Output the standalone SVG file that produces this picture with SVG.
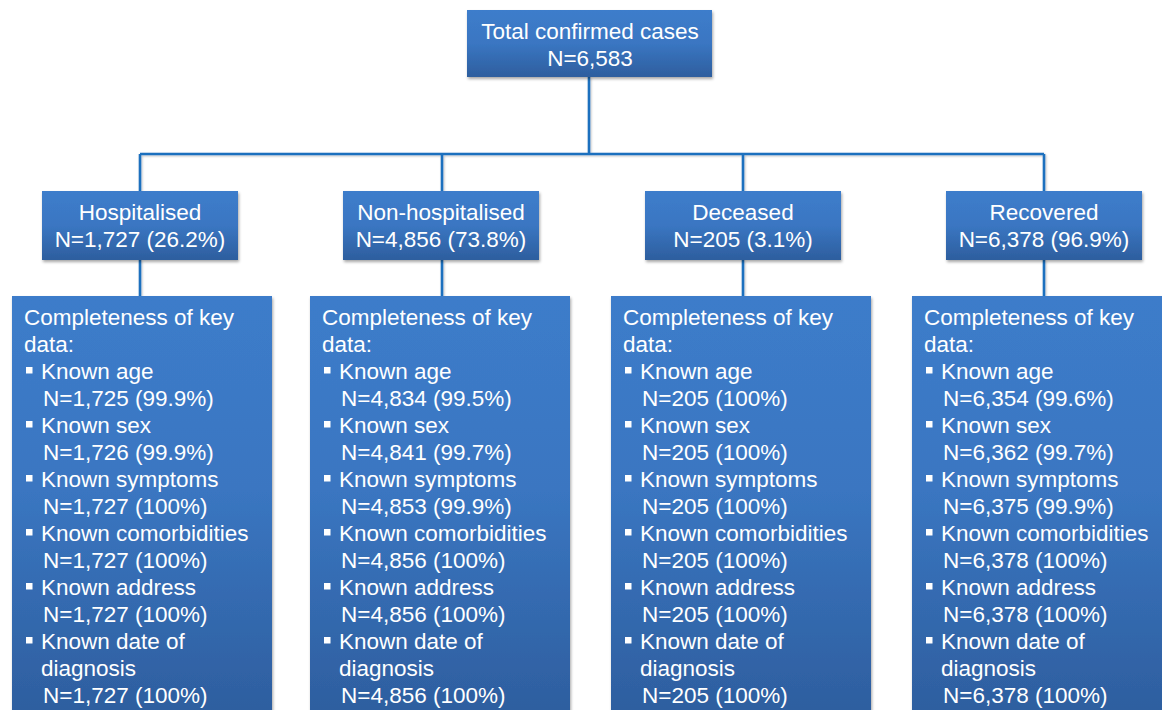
<svg xmlns="http://www.w3.org/2000/svg" width="1162" height="710" viewBox="0 0 1162 710">
<defs>
<linearGradient id="gSmall" x1="0" y1="0" x2="0" y2="1">
<stop offset="0" stop-color="#3D7DCB"/>
<stop offset="0.5" stop-color="#3A76C2"/>
<stop offset="1" stop-color="#2D5E9E"/>
</linearGradient>
<linearGradient id="gBig" x1="0" y1="0" x2="0" y2="1">
<stop offset="0" stop-color="#3C7CCA"/>
<stop offset="0.45" stop-color="#3A76C1"/>
<stop offset="1" stop-color="#2D5D9D"/>
</linearGradient>
<filter id="sh" x="-10%" y="-10%" width="130%" height="130%">
<feDropShadow dx="1" dy="2" stdDeviation="1.6" flood-color="#000" flood-opacity="0.35"/>
</filter>
<filter id="lsh" x="-5%" y="-50%" width="110%" height="200%">
<feDropShadow dx="1" dy="1" stdDeviation="1" flood-color="#000" flood-opacity="0.25"/>
</filter>
</defs>
<style>
.box{filter:url(#sh);}
.small{fill:url(#gSmall);}
.big{fill:url(#gBig);}
text{font-family:"Liberation Sans",Arial,sans-serif;font-size:22.5px;fill:#FFFFFF;}
.c{text-anchor:middle;}
.bul{fill:#FFFFFF;}
.conn{stroke:#1E6FBE;stroke-width:2.6;fill:none;filter:url(#lsh);}
</style>
<rect width="1162" height="710" fill="#FFFFFF"/>
<g id="connectors">
<path class="conn" d="M589,77 V154 M140,154 H1044 M140,154 V191 M442,154 V191 M743,154 V191 M1044,154 V191"/>
<path class="conn" d="M140,260 V296 M442,260 V296 M743,260 V296 M1044,260 V296"/>
</g>
<g id="total">
<rect class="box small" x="467" y="10" width="245" height="67"/>
<text class="c" x="590" y="39">Total confirmed cases</text>
<text class="c" x="590" y="66">N=6,583</text>
</g>
<g id="hospitalised">
<rect class="box small" x="42" y="191" width="196" height="69"/>
<text class="c" x="140" y="220">Hospitalised</text>
<text class="c" x="140" y="247">N=1,727 (26.2%)</text>
</g>
<g id="nonhospitalised">
<rect class="box small" x="343" y="191" width="196" height="69"/>
<text class="c" x="441" y="220">Non-hospitalised</text>
<text class="c" x="441" y="247">N=4,856 (73.8%)</text>
</g>
<g id="deceased">
<rect class="box small" x="645" y="191" width="196" height="69"/>
<text class="c" x="743" y="220">Deceased</text>
<text class="c" x="743" y="247">N=205 (3.1%)</text>
</g>
<g id="recovered">
<rect class="box small" x="946" y="191" width="196" height="69"/>
<text class="c" x="1044" y="220">Recovered</text>
<text class="c" x="1044" y="247">N=6,378 (96.9%)</text>
</g>
<g id="detail-hospitalised">
<rect class="box big" x="12" y="296" width="260" height="430"/>
<text x="24" y="325">Completeness of key</text>
<text x="24" y="352">data:</text>
<rect class="bul" x="26" y="367" width="6.5" height="6.5"/><text x="41" y="379">Known age</text>
<text x="43" y="406">N=1,725 (99.9%)</text>
<rect class="bul" x="26" y="421" width="6.5" height="6.5"/><text x="41" y="433">Known sex</text>
<text x="43" y="460">N=1,726 (99.9%)</text>
<rect class="bul" x="26" y="475" width="6.5" height="6.5"/><text x="41" y="487">Known symptoms</text>
<text x="43" y="514">N=1,727 (100%)</text>
<rect class="bul" x="26" y="529" width="6.5" height="6.5"/><text x="41" y="541">Known comorbidities</text>
<text x="43" y="568">N=1,727 (100%)</text>
<rect class="bul" x="26" y="583" width="6.5" height="6.5"/><text x="41" y="595">Known address</text>
<text x="43" y="622">N=1,727 (100%)</text>
<rect class="bul" x="26" y="637" width="6.5" height="6.5"/><text x="41" y="649">Known date of</text>
<text x="41" y="676">diagnosis</text>
<text x="43" y="703">N=1,727 (100%)</text>
</g>
<g id="detail-nonhospitalised">
<rect class="box big" x="310" y="296" width="260" height="430"/>
<text x="322" y="325">Completeness of key</text>
<text x="322" y="352">data:</text>
<rect class="bul" x="324" y="367" width="6.5" height="6.5"/><text x="339" y="379">Known age</text>
<text x="341" y="406">N=4,834 (99.5%)</text>
<rect class="bul" x="324" y="421" width="6.5" height="6.5"/><text x="339" y="433">Known sex</text>
<text x="341" y="460">N=4,841 (99.7%)</text>
<rect class="bul" x="324" y="475" width="6.5" height="6.5"/><text x="339" y="487">Known symptoms</text>
<text x="341" y="514">N=4,853 (99.9%)</text>
<rect class="bul" x="324" y="529" width="6.5" height="6.5"/><text x="339" y="541">Known comorbidities</text>
<text x="341" y="568">N=4,856 (100%)</text>
<rect class="bul" x="324" y="583" width="6.5" height="6.5"/><text x="339" y="595">Known address</text>
<text x="341" y="622">N=4,856 (100%)</text>
<rect class="bul" x="324" y="637" width="6.5" height="6.5"/><text x="339" y="649">Known date of</text>
<text x="339" y="676">diagnosis</text>
<text x="341" y="703">N=4,856 (100%)</text>
</g>
<g id="detail-deceased">
<rect class="box big" x="611" y="296" width="260" height="430"/>
<text x="623" y="325">Completeness of key</text>
<text x="623" y="352">data:</text>
<rect class="bul" x="625" y="367" width="6.5" height="6.5"/><text x="640" y="379">Known age</text>
<text x="642" y="406">N=205 (100%)</text>
<rect class="bul" x="625" y="421" width="6.5" height="6.5"/><text x="640" y="433">Known sex</text>
<text x="642" y="460">N=205 (100%)</text>
<rect class="bul" x="625" y="475" width="6.5" height="6.5"/><text x="640" y="487">Known symptoms</text>
<text x="642" y="514">N=205 (100%)</text>
<rect class="bul" x="625" y="529" width="6.5" height="6.5"/><text x="640" y="541">Known comorbidities</text>
<text x="642" y="568">N=205 (100%)</text>
<rect class="bul" x="625" y="583" width="6.5" height="6.5"/><text x="640" y="595">Known address</text>
<text x="642" y="622">N=205 (100%)</text>
<rect class="bul" x="625" y="637" width="6.5" height="6.5"/><text x="640" y="649">Known date of</text>
<text x="640" y="676">diagnosis</text>
<text x="642" y="703">N=205 (100%)</text>
</g>
<g id="detail-recovered">
<rect class="box big" x="912" y="296" width="260" height="430"/>
<text x="924" y="325">Completeness of key</text>
<text x="924" y="352">data:</text>
<rect class="bul" x="926" y="367" width="6.5" height="6.5"/><text x="941" y="379">Known age</text>
<text x="943" y="406">N=6,354 (99.6%)</text>
<rect class="bul" x="926" y="421" width="6.5" height="6.5"/><text x="941" y="433">Known sex</text>
<text x="943" y="460">N=6,362 (99.7%)</text>
<rect class="bul" x="926" y="475" width="6.5" height="6.5"/><text x="941" y="487">Known symptoms</text>
<text x="943" y="514">N=6,375 (99.9%)</text>
<rect class="bul" x="926" y="529" width="6.5" height="6.5"/><text x="941" y="541">Known comorbidities</text>
<text x="943" y="568">N=6,378 (100%)</text>
<rect class="bul" x="926" y="583" width="6.5" height="6.5"/><text x="941" y="595">Known address</text>
<text x="943" y="622">N=6,378 (100%)</text>
<rect class="bul" x="926" y="637" width="6.5" height="6.5"/><text x="941" y="649">Known date of</text>
<text x="941" y="676">diagnosis</text>
<text x="943" y="703">N=6,378 (100%)</text>
</g>
</svg>
